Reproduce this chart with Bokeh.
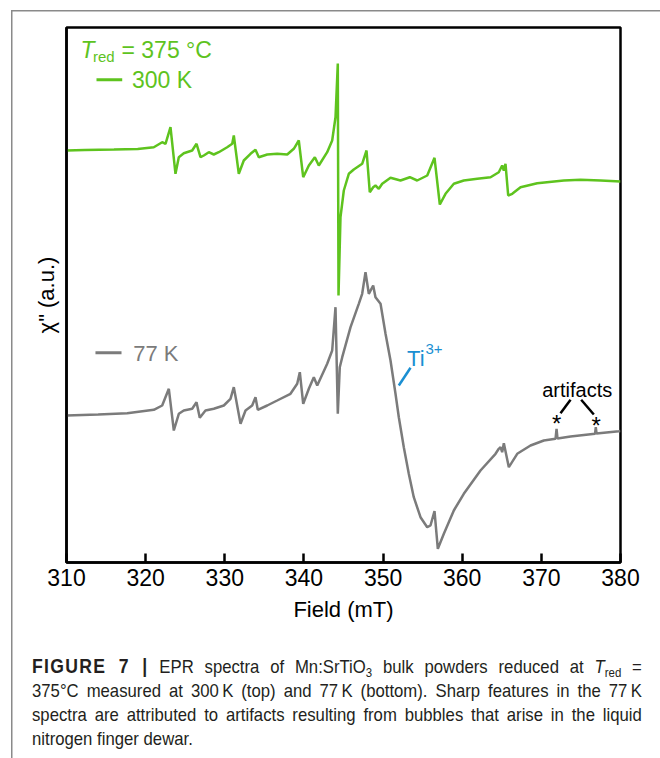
from bokeh.plotting import figure
from bokeh.models import Range1d, Label, FixedTicker, Div
from bokeh.layouts import column
from bokeh.embed import file_html
from bokeh.resources import INLINE

# ---------------- data ----------------
field_300K = [310.0, 312.3, 316.0, 319.0, 321.03, 322.09, 322.51, 323.14, 323.77, 324.19,
              324.82, 325.88, 326.43, 326.93, 327.35, 327.98, 328.61, 329.24, 330.30, 330.94,
              331.14, 331.77, 332.40, 333.25, 333.88, 334.30, 335.36, 336.62, 337.89, 338.72,
              339.35, 339.91, 340.62, 341.38, 341.88, 342.94, 343.57, 343.99, 344.28, 344.37,
              344.62, 345.04, 345.67, 346.30, 347.36, 347.91, 348.32, 348.75, 349.04, 349.46,
              349.89, 350.94, 352.20, 353.38, 354.31, 355.58, 356.50, 357.17, 357.89, 358.94,
              360.20, 361.90, 363.58, 364.62, 365.05, 365.26, 365.47, 365.81, 366.32, 367.37,
              369.48, 372.84, 374.95, 377.5, 380.0]
chi_300K = [4.12, 4.125, 4.13, 4.135, 4.153, 4.203, 4.187, 4.353, 3.887, 4.053,
            4.093, 4.12, 4.187, 4.053, 4.07, 4.103, 4.08, 4.103, 4.153, 4.187,
            4.27, 3.887, 4.02, 4.087, 4.127, 4.053, 4.08, 4.087, 4.08, 4.137,
            4.22, 3.853, 3.97, 4.053, 3.97, 4.103, 4.22, 4.453, 4.99, 2.67,
            3.453, 3.72, 3.887, 3.93, 3.987, 4.12, 3.703, 3.753, 3.77, 3.737,
            3.787, 3.847, 3.82, 3.853, 3.82, 3.87, 4.047, 3.58, 3.687, 3.787,
            3.82, 3.837, 3.853, 3.903, 3.97, 3.92, 3.987, 3.67, 3.687, 3.753,
            3.793, 3.82, 3.827, 3.82, 3.81]

field_77K = [310.0, 314.0, 317.67, 321.03, 322.09, 322.93, 323.56, 324.19, 324.82, 325.88,
             326.43, 326.84, 327.56, 328.61, 329.88, 330.72, 331.14, 331.99, 332.62, 333.46,
             333.88, 334.17, 335.36, 336.62, 338.30, 339.15, 339.48, 339.91, 340.62, 341.25,
             341.68, 342.94, 343.57, 343.99, 344.28, 344.53, 344.84, 345.89, 346.93, 347.36,
             347.78, 348.20, 348.75, 349.04, 349.68, 350.31, 350.94, 351.57, 351.99, 352.62,
             353.25, 353.88, 354.73, 355.58, 355.99, 356.50, 356.92, 357.68, 358.94, 360.20,
             362.31, 364.21, 364.62, 364.84, 365.05, 365.26, 365.89, 366.95, 368.63, 370.31,
             371.79, 371.92, 372.04, 373.69, 376.78, 376.88, 376.97, 379.79, 380.0]
chi_77K = [1.47, 1.48, 1.493, 1.527, 1.57, 1.737, 1.32, 1.487, 1.52, 1.537,
           1.603, 1.447, 1.52, 1.537, 1.57, 1.637, 1.753, 1.387, 1.52, 1.57,
           1.653, 1.527, 1.57, 1.62, 1.687, 1.787, 1.903, 1.587, 1.737, 1.853,
           1.77, 1.987, 2.12, 2.553, 1.487, 1.953, 2.053, 2.353, 2.587, 2.687,
           2.903, 2.687, 2.77, 2.653, 2.587, 2.287, 2.02, 1.687, 1.453, 1.153,
           0.887, 0.653, 0.453, 0.353, 0.37, 0.513, 0.137, 0.287, 0.52, 0.687,
           0.92, 1.087, 1.137, 1.153, 1.103, 1.193, 0.953, 1.087, 1.17, 1.22,
           1.237, 1.337, 1.24, 1.26, 1.287, 1.353, 1.29, 1.313, 1.315]

x_ticks = [310, 320, 330, 340, 350, 360, 370, 380]

GREEN = "#5ec31e"
GRAY = "#7b7b7b"
BLUE = "#1a8fd2"
FRAMEGRAY = "#8a8a8a"
FONT = "Liberation Sans"
CAPCOL = "#231f20"

# frame placement on the page
FL, FR, FT, FB = 66, 620, 27, 562
W, PH, CH = 660, 640, 118   # figure height + caption height = 758

p = figure(width=W, height=PH, output_backend="svg", toolbar_location=None,
           x_range=Range1d(310, 380), y_range=Range1d(0, 5.35),
           min_border_left=FL, min_border_right=W - FR, min_border_top=FT,
           min_border_bottom=PH - FB)
p.xgrid.visible = False
p.ygrid.visible = False
p.background_fill_color = "white"
p.border_fill_color = None
p.outline_line_color = "black"
p.outline_line_width = 2.5
p.outline_line_alpha = 1.0

xa = p.xaxis[0]
xa.ticker = FixedTicker(ticks=x_ticks)
xa.major_tick_in = 9
xa.major_tick_out = 0
xa.minor_tick_line_color = None
xa.axis_line_width = 2.5
xa.major_tick_line_width = 2.5
xa.major_label_text_font = FONT
xa.major_label_text_font_size = "23px"
xa.major_label_text_color = "black"
xa.major_label_standoff = 6
xa.axis_label = "Field (mT)"
xa.axis_label_text_font = FONT
xa.axis_label_text_font_size = "22px"
xa.axis_label_text_font_style = "normal"
xa.axis_label_text_color = "black"
xa.axis_label_standoff = 8

ya = p.yaxis[0]
ya.ticker = FixedTicker(ticks=[])
ya.major_tick_in = 0
ya.major_tick_out = 0
ya.minor_tick_line_color = None
ya.axis_line_width = 2.5
ya.axis_label = 'χ" (a.u.)'
ya.axis_label_text_font = FONT
ya.axis_label_text_font_size = "22px"
ya.axis_label_text_font_style = "normal"
ya.axis_label_text_color = "black"
ya.axis_label_standoff = 8

p.line(field_300K, chi_300K, line_color=GREEN, line_width=2.5)
p.line(field_77K, chi_77K, line_color=GRAY, line_width=2.5)


def lab(x, y, text, color, size, style="normal", align="left"):
    p.add_layout(Label(x=x, y=y, text=text,
                       text_color=color, text_font=FONT, text_font_size=f"{size}px",
                       text_font_style=style, text_baseline="alphabetic",
                       text_align=align))


# legend texts
lab(311.77, 5.13, "T", GREEN, 23, "italic")
lab(313.35, 5.065, "red", GREEN, 15)
lab(316.95, 5.13, "= 375 °C", GREEN, 23)
p.line([313.79, 317.04], [4.827, 4.827], line_color=GREEN, line_width=3)
lab(318.28, 4.827, "300 K", GREEN, 23)
p.line([313.66, 316.95], [2.097, 2.097], line_color=GRAY, line_width=3)
lab(318.43, 2.093, "77 K", GRAY, 22)

# Ti3+ annotation
lab(353.03, 2.04, "Ti", BLUE, 22)
lab(355.36, 2.135, "3+", BLUE, 15)
p.line([351.99, 353.47], [1.77, 1.947], line_color=BLUE, line_width=2.5)

# artifacts annotation
lab(370.11, 1.73, "artifacts", "black", 20)
p.line([373.69, 372.42], [1.627, 1.493], line_color="black", line_width=2.5)
p.line([375.03, 376.63], [1.627, 1.48], line_color="black", line_width=2.5)
lab(371.92, 1.39, "*", "black", 24, align="center")
lab(376.93, 1.367, "*", "black", 24, align="center")

# caption (justified, condensed like the journal figure caption)
SCALE = 0.88
sub = 'style="font-size:13px; line-height:0; vertical-align:-4px"'
caption_html = (
    '<div style="width:%dpx; height:%dpx; overflow:hidden; padding:14px 0 0 32px; '
    'margin:0; box-sizing:border-box; color:%s; '
    "font-family:'Liberation Sans',Arial,sans-serif; font-size:19px; line-height:24px;\">"
    '<div style="width:%dpx; transform:scaleX(%s); transform-origin:0 0;">'
    '<div style="text-align:justify; text-align-last:justify;">'
    '<b style="letter-spacing:1.5px; font-size:20px;">FIGURE 7 |</b> EPR spectra of Mn:SrTiO<sub %s>3</sub> bulk powders reduced at '
    '<i>T</i><sub %s>red</sub> =<br>'
    '375°C measured at 300&thinsp;K (top) and 77&thinsp;K (bottom). Sharp features in the 77&thinsp;K<br>'
    'spectra are attributed to artifacts resulting from bubbles that arise in the liquid'
    '</div>'
    '<div style="text-align:left;">nitrogen finger dewar.</div>'
    '</div></div>'
) % (W, CH, CAPCOL, round(610 / SCALE), SCALE, sub, sub)
cap = Div(text=caption_html, width=W, height=CH, margin=0)

layout = column(p, cap, spacing=0, margin=0, styles={
    "background-image": "linear-gradient(%s, %s), linear-gradient(%s, %s)"
                        % (FRAMEGRAY, FRAMEGRAY, FRAMEGRAY, FRAMEGRAY),
    "background-size": "1.5px 760px, 660px 1.5px",
    "background-position": "10.5px 9.5px, 10.5px 9.5px",
    "background-repeat": "no-repeat",
})

open("out.html", "w").write(file_html(layout, INLINE))
